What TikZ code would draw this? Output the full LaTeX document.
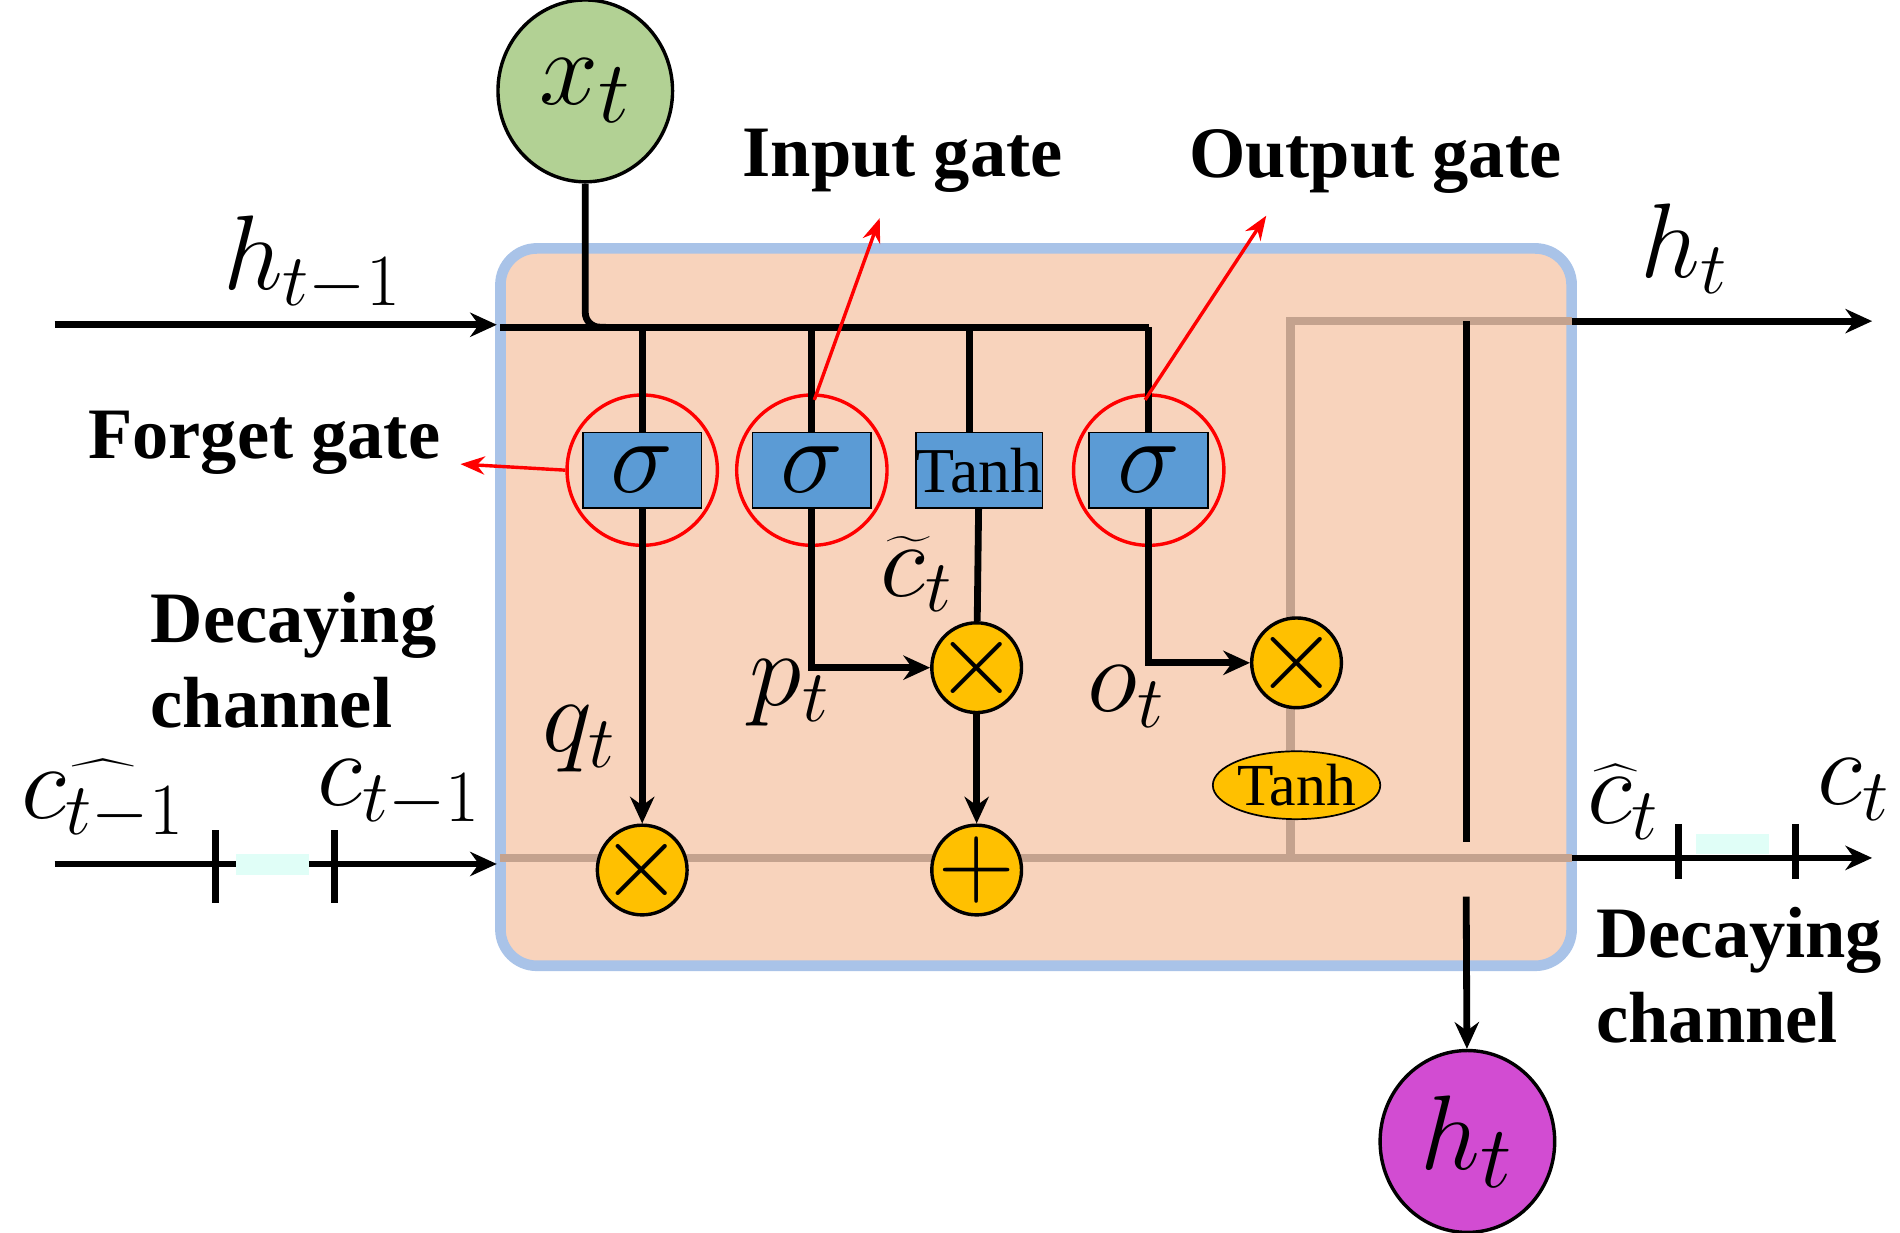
\documentclass[tikz,border=0pt]{standalone}
\usepackage{fontspec}
\setmainfont{Liberation Serif}
\usetikzlibrary{arrows.meta,positioning}
\definecolor{cellfill}{HTML}{F8D3BC}
\definecolor{cellrim}{HTML}{A9C3E8}
\definecolor{gatefill}{HTML}{5B9BD5}
\definecolor{opfill}{HTML}{FFC000}
\definecolor{statecol}{HTML}{C4A28E}
\tikzset{
	gate/.style={draw=black, fill=gatefill, minimum width=0.98cm, minimum height=0.62cm, inner sep=0pt, font=\fontsize{26}{26}\selectfont},
	op/.style={circle, draw=black, thick, fill=opfill, minimum size=0.74cm, inner sep=-3pt, font=\fontsize{28}{28}\selectfont},
	ring/.style={circle, draw=red, thick, minimum size=1.24cm},
	io/.style={ellipse, draw=black, thick, minimum width=1.44cm, minimum height=1.5cm, inner sep=0pt, font=\fontsize{30}{30}\selectfont},
	lab/.style={font=\fontsize{17}{20}\selectfont\bfseries, align=left},
	sym/.style={font=\fontsize{24}{24}\selectfont, inner sep=0pt},
	flow/.style={-{Stealth[length=0.22cm,width=0.2cm]}, line width=1.6pt},
	pointer/.style={-{Stealth[length=0.2cm,width=0.15cm]}, red, thick}
}
\usetikzlibrary{shapes.geometric}
\begin{document}
\begin{tikzpicture}[x=0.01cm, y=-0.01cm]
	\useasboundingbox (0,0) rectangle (1568,1017);
	% cell body
	\draw[cellrim, line width=2.5pt, fill=cellfill, rounded corners=0.3cm] (413,205) rectangle (1297,797);

	% cell state path
	\draw[statecol, line width=2pt] (413,708) -- (1297,708);
	\draw[statecol, line width=2pt] (1065,708) -- (1065,265) -- (1297,265);

	% inputs and outputs
	\node[io, fill=green!35!lime!40!gray!60] (x) at (483,75) {$x_t$};
	\node[io, fill=violet!50!magenta!70] (h) at (1211,942) {$h_t$};

	% gates
	\node[gate] (f) at (530,388) {$\sigma$};
	\node[gate] (i) at (670,388) {$\sigma$};
	\node[gate, font=\fontsize{15}{15}\selectfont] (g) at (808,388) {Tanh};
	\node[gate] (o) at (948,388) {$\sigma$};
	\foreach \n in {f,i,o}
		\node[ring] (r\n) at (\n) {};

	% pointwise operations
	\node[op] (mf) at (530,718) {$\times$};
	\node[op] (mi) at (806,551) {$\times$};
	\node[op] (add) at (806,718) {$+$};
	\node[op] (mo) at (1070,547) {$\times$};
	\node[ellipse, draw=black, fill=opfill, minimum width=1.05cm, minimum height=0.56cm, inner sep=0pt, font=\fontsize{14}{14}\selectfont] (th) at (1070,648) {Tanh};

	% hidden state path
	\coordinate (hin) at (45,268);
	\coordinate (hbus) at (413,270);
	\draw[flow] (hin) -- (410,268);
	\draw[line width=1.6pt] (hbus) -- (948,270);
	\draw[line width=1.6pt, rounded corners=0.12cm] (x) -- (483,270) -- (500,270);
	\foreach \n/\c in {f/530,i/670,g/800,o/948}
		\draw[line width=1.6pt] (\c,270) -- (\c,357);

	\draw[flow] (1297,265) -- (1545,265);
	\draw[flow] (1297,708) -- (1545,708);
	\draw[flow] (45,713) -- (410,713);
	\foreach \t in {178,276}
		\draw[line width=1.6pt] (\t,685) -- (\t,745);
	\foreach \t in {1385,1482}
		\draw[line width=1.6pt] (\t,680) -- (\t,725);
	\fill[red!15!yellow!20!cyan!15] (195,705) rectangle (255,722);
	\fill[red!15!yellow!20!cyan!15] (1400,688) rectangle (1460,705);
	\draw[line width=1.6pt] (1210,265) -- (1210,695);
	\draw[flow] (1210,740) -- (h);

	% gate outputs
	\draw[flow] (f) -- (mf);
	\draw[flow] (i.south) |- (mi);
	\draw[line width=1.6pt] (g) -- (mi);
	\draw[flow] (mi) -- (add);
	\draw[flow] (o.south) |- (mo);

	% gate pointers
	\draw[pointer] (rf.west) -- (380,383);
	\draw[pointer] (672,330) -- (726,180);
	\draw[pointer] (945,330) -- (1045,178);
	\node[lab] (lf) at (218,365) {Forget gate};
	\node[lab] (li) at (745,133) {Input gate};
	\node[lab] (lo) at (1135,133) {Output gate};
	\node[lab, anchor=west] (dl) at (112,545) {Decaying\\channel};
	\node[lab, anchor=west] (dr) at (1305,805) {Decaying\\channel};

	% symbols
	\node[sym] (sh0) at (258,218) {$h_{t-1}$};
	\node[sym] (sh1) at (1390,205) {$h_t$};
	\node[sym] (sc0) at (85,660) {$\widehat{c_{t-1}}$};
	\node[sym] (sc1) at (330,655) {$c_{t-1}$};
	\node[sym] (sc2) at (1340,662) {$\widehat{c}_t$};
	\node[sym] (sc3) at (1530,652) {$c_t$};
	\node[sym] (sq) at (478,610) {$q_t$};
	\node[sym] (sp) at (652,572) {$p_t$};
	\node[sym] (so) at (930,575) {$o_t$};
	\node[sym] (sg) at (757,474) {$\widetilde{c}_t$};
\end{tikzpicture}
\end{document}
